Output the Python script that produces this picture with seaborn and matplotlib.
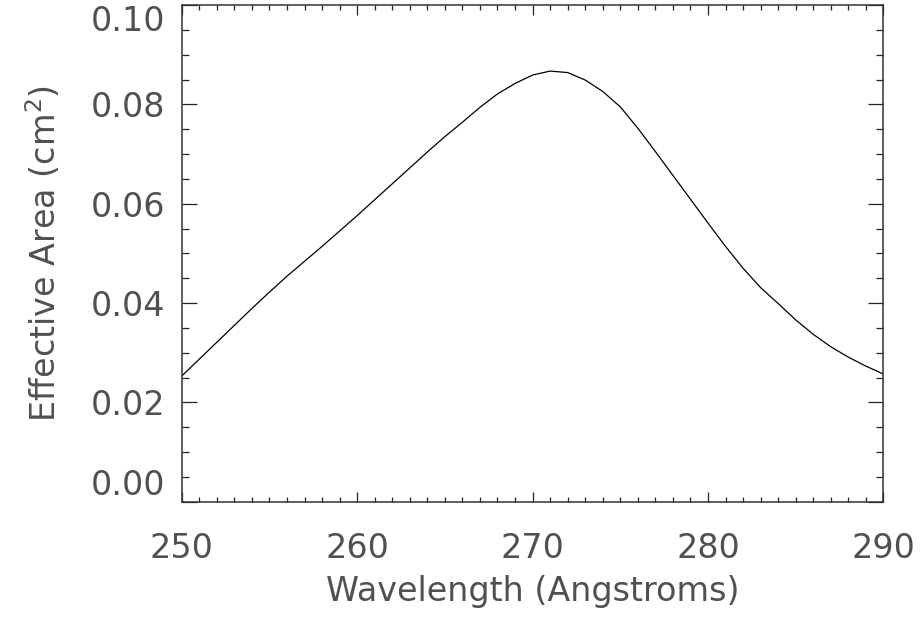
import numpy as np
import pandas as pd
import matplotlib
matplotlib.use("Agg")
import matplotlib.pyplot as plt
from matplotlib.ticker import MultipleLocator
import seaborn as sns

# effective area, one value per Angstrom
wavelength = list(range(250, 291))
area = [0.0253, 0.0287, 0.0321, 0.0355, 0.0389, 0.0422, 0.0454, 0.0484,
        0.0514, 0.0545, 0.0576, 0.0608, 0.0640, 0.0672, 0.0704, 0.0735,
        0.0764, 0.0794, 0.0821, 0.0842, 0.0859, 0.0867, 0.0864, 0.0849,
        0.0826, 0.0795, 0.0752, 0.0705, 0.0657, 0.0609, 0.0561, 0.0514,
        0.0470, 0.0431, 0.0399, 0.0366, 0.0337, 0.0312, 0.0291, 0.0273,
        0.0257]

x_ticks = [250, 260, 270, 280, 290]
y_ticks = [0.00, 0.02, 0.04, 0.06, 0.08, 0.10]

df = pd.DataFrame({"Wavelength": wavelength, "Area": area})

sns.set_theme(style="ticks")
plt.rcParams["font.family"] = ["DejaVu Sans"]

# thin vector font in the original reads as mid grey; soften the heavier glyphs
text_color = "#505050"

fig = plt.figure(figsize=(9.23, 6.19), dpi=100)
ax = fig.add_axes([0.1969, 0.1895, 0.7602, 0.8024])

sns.lineplot(data=df, x="Wavelength", y="Area", color="black", linewidth=0.9, ax=ax)

ax.set_xlim(250, 290)
ax.set_ylim(0, 0.10)
ax.set_xticks(x_ticks)
ax.set_yticks(y_ticks)
ax.set_xticklabels([str(t) for t in x_ticks])
ax.set_yticklabels([f"{t:.2f}" for t in y_ticks])
ax.xaxis.set_minor_locator(MultipleLocator(1))
ax.yaxis.set_minor_locator(MultipleLocator(0.005))

for side in ["top", "right", "bottom", "left"]:
    ax.spines[side].set_visible(True)
    ax.spines[side].set_linewidth(1.1)
    ax.spines[side].set_color("#333333")

ax.tick_params(axis="x", which="major", direction="in", length=7.5, width=0.9,
               top=True, bottom=True, labelsize=24, pad=22,
               color="#222222", labelcolor=text_color)
ax.tick_params(axis="x", which="minor", direction="in", length=3.5, width=0.9,
               top=True, bottom=True, color="#222222")
ax.tick_params(axis="y", which="major", direction="in", length=10.5, width=0.9,
               left=True, right=True, labelsize=24, pad=12,
               color="#222222", labelcolor=text_color)
ax.tick_params(axis="y", which="minor", direction="in", length=5, width=0.9,
               left=True, right=True, color="#222222")

# end labels sit inside the axis range like the original
ylabels = ax.get_yticklabels()
ylabels[0].set_va("bottom")
ylabels[-1].set_va("top")

ax.set_xlabel("Wavelength (Angstroms)", fontsize=24, color=text_color, labelpad=7)
ax.set_ylabel("Effective Area (cm$^{2}$)", fontsize=24, color=text_color, labelpad=20)

fig.savefig("out.png", dpi=100)
